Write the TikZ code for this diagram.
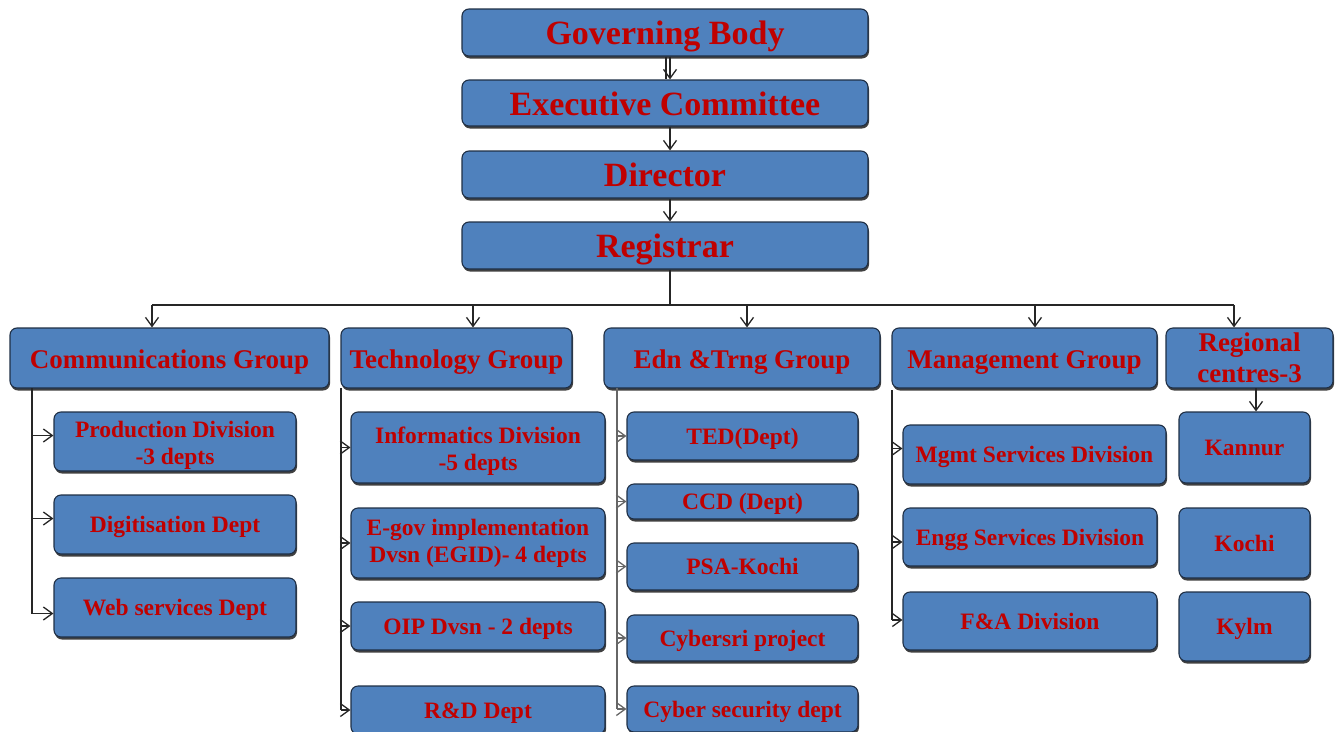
\documentclass[tikz,border=0pt]{standalone}
\usepackage{fontspec}
\setmainfont{Liberation Serif}
\usetikzlibrary{arrows.meta,shadows,calc}
\definecolor{boxfill}{HTML}{4F81BD}
\definecolor{boxline}{HTML}{1F2F45}
\definecolor{txtred}{HTML}{C00000}
\newcommand\lowstrut{\rule{0pt}{23pt}}
\tikzset{
  box/.style={rectangle, rounded corners=7pt, fill=boxfill, draw=boxline, line width=1.1pt,
    text=txtred, align=center, inner sep=1pt,
    drop shadow={shadow xshift=1pt, shadow yshift=-2.5pt, fill=black!75, opacity=1}},
  topbox/.style={box, font=\bfseries\fontsize{34}{36}\selectfont, text height=26.5pt, text depth=2.5pt},
  grpbox/.style={box, font=\bfseries\fontsize{27}{31}\selectfont, text height=21.6pt, text depth=1.6pt},
  grp2box/.style={box, font=\bfseries\fontsize{27}{31}\selectfont},
  kidbox/.style={box, font=\bfseries\fontsize{23.5}{27}\selectfont, text height=17.5pt, text depth=1.5pt},
  kid2box/.style={box, font=\bfseries\fontsize{23.5}{27}\selectfont},
  conn/.style={draw=black!85, line width=1.3pt},
  arr/.style={conn, -{Straight Barb[length=9pt,width=13pt,line width=1.3pt]}},
}
\begin{document}
\begin{tikzpicture}[x=1pt,y=-1pt]
\useasboundingbox (0,0) rectangle (1341,731);
% top chain
\node[topbox, minimum width=406, minimum height=47] (gb) at (665,32.5) {Governing Body};
\node[topbox, minimum width=406, minimum height=46] (ec) at (665,103) {Executive Committee};
\node[topbox, minimum width=406, minimum height=47] (dir) at (665,174.5) {Director};
\node[topbox, minimum width=406, minimum height=47] (reg) at (665,245.5) {Registrar};
\coordinate (spine) at (670,305);
\draw[arr] (gb.south -| spine) -- (ec.north -| spine);
\draw[conn] ($(gb.south -| spine)+(-4,0)$) -- ($(ec.north -| spine)+(-4,0)$);
\draw[arr] (ec.south -| spine) -- (dir.north -| spine);
\draw[arr] (dir.south -| spine) -- (reg.north -| spine);
% groups
\node[grpbox, minimum width=319, minimum height=60] (comm) at (169.5,358) {Communications Group};
\node[grpbox, minimum width=231, minimum height=60] (tech) at (456.5,358) {Technology Group};
\node[grpbox, minimum width=276, minimum height=60] (edn) at (742,358) {Edn \&Trng Group};
\node[grpbox, minimum width=265, minimum height=60] (mgmt) at (1024.5,358) {Management Group};
\node[grp2box, minimum width=167, minimum height=60] (rc) at (1249.5,358) {Regional\\centres-3};
\coordinate (b1) at (152,305);
\coordinate (b2) at (473,305);
\coordinate (b3) at (747,305);
\coordinate (b4) at (1035,305);
\coordinate (b5) at (1234,305);
\draw[conn] (reg.south -| spine) -- (spine);
\draw[conn] (b1) -- (b5);
\draw[arr] (b1) -- (b1 |- comm.north);
\draw[arr] (b2) -- (b2 |- tech.north);
\draw[arr] (b3) -- (b3 |- edn.north);
\draw[arr] (b4) -- (b4 |- mgmt.north);
\draw[arr] (b5) -- (b5 |- rc.north);
% communications children
\node[kid2box, minimum width=242, minimum height=59] (prod) at (175,441.5) {\lowstrut Production Division\\-3 depts};
\node[kidbox, minimum width=242, minimum height=59] (digi) at (175,524.5) {Digitisation Dept};
\node[kidbox, minimum width=242, minimum height=59] (web) at (175,607.5) {Web services Dept};
\coordinate (t1) at (32,388);
\draw[conn] (t1) -- ($(t1 |- web.west)+(0,6)$);
\draw[arr] ($(t1 |- prod.west)+(0,-6)$) -- ($(prod.west)+(0,-6)$);
\draw[arr] ($(t1 |- digi.west)+(0,-6)$) -- ($(digi.west)+(0,-6)$);
\draw[arr] ($(t1 |- web.west)+(0,6)$) -- ($(web.west)+(0,6)$);
% technology children
\node[kid2box, minimum width=254, minimum height=71] (info) at (478,447.5) {\lowstrut Informatics Division\\-5 depts};
\node[kid2box, minimum width=254, minimum height=70] (egov) at (478,543) {E-gov implementation\\Dvsn (EGID)- 4 depts};
\node[kidbox, minimum width=254, minimum height=48] (oip) at (478,626) {OIP Dvsn - 2 depts};
\node[kidbox, minimum width=254, minimum height=48] (rd) at (478,710) {R\&D Dept};
\coordinate (t2) at (341,388);
\draw[conn] (t2) -- (t2 |- rd.west);
\draw[arr] (t2 |- info.west) -- (info.west);
\draw[arr] (t2 |- egov.west) -- (egov.west);
\draw[arr] (t2 |- oip.west) -- (oip.west);
\draw[arr] (t2 |- rd.west) -- (rd.west);
% education children
\node[kidbox, minimum width=231, minimum height=48] (ted) at (742.5,436) {TED(Dept)};
\node[kidbox, minimum width=231, minimum height=35] (ccd) at (742.5,501.5) {CCD (Dept)};
\node[kidbox, minimum width=231, minimum height=47] (psa) at (742.5,566.5) {PSA-Kochi};
\node[kidbox, minimum width=231, minimum height=46] (csri) at (742.5,638) {Cybersri project};
\node[kidbox, minimum width=231, minimum height=46] (csec) at (742.5,709) {Cyber security dept};
\coordinate (t3) at (617,388);
\draw[conn, draw=black!60] (t3) -- (t3 |- csec.west);
\draw[arr, draw=black!60] (t3 |- ted.west) -- (ted.west);
\draw[arr, draw=black!60] (t3 |- ccd.west) -- (ccd.west);
\draw[arr, draw=black!60] (t3 |- psa.west) -- (psa.west);
\draw[arr, draw=black!60] (t3 |- csri.west) -- (csri.west);
\draw[arr, draw=black!60] (t3 |- csec.west) -- (csec.west);
% management children
\node[kidbox, minimum width=263, minimum height=59] (msd) at (1034.5,454.5) {Mgmt Services Division};
\node[kidbox, minimum width=254, minimum height=58] (esd) at (1030,537) {Engg Services Division};
\node[kidbox, minimum width=254, minimum height=58] (fa) at (1030,621) {F\&A Division};
\coordinate (t4) at (892,390);
\draw[conn] (t4) -- ($(t4 |- fa.west)+(0,-1)$);
\draw[arr] ($(t4 |- msd.west)+(0,-6)$) -- ($(msd.west)+(0,-6)$);
\draw[arr] ($(t4 |- esd.west)+(0,5)$) -- ($(esd.west)+(0,5)$);
\draw[arr] ($(t4 |- fa.west)+(0,-1)$) -- ($(fa.west)+(0,-1)$);
% regional children
\node[kidbox, minimum width=131, minimum height=71] (kan) at (1244.5,447.5) {Kannur};
\node[kidbox, minimum width=131, minimum height=70] (koc) at (1244.5,543) {Kochi};
\node[kidbox, minimum width=131, minimum height=69] (kyl) at (1244.5,626.5) {Kylm};
\coordinate (t5) at (1256,388);
\draw[arr] (t5) -- (t5 |- kan.north);
\end{tikzpicture}
\end{document}
